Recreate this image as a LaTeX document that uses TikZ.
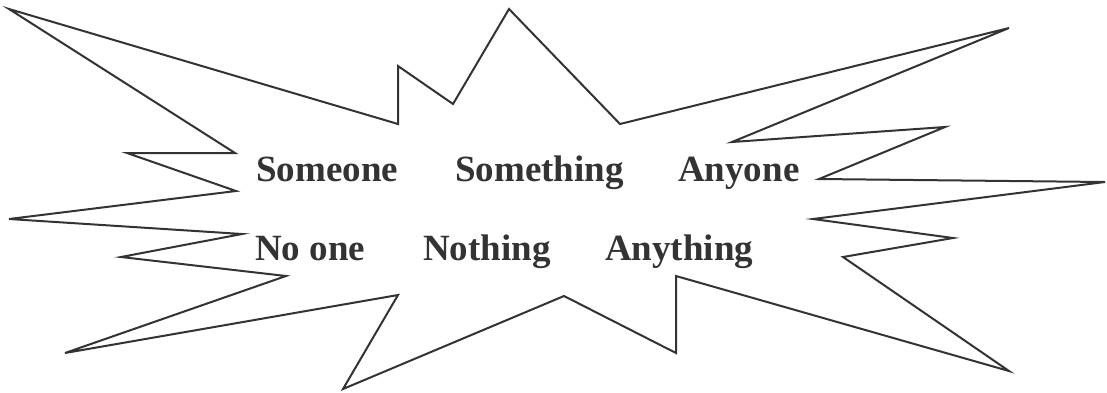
\documentclass[tikz,border=0pt]{standalone}
\usepackage{fontspec}
\setmainfont{Liberation Serif}
\definecolor{ink}{HTML}{333333}
\begin{document}
\begin{tikzpicture}[x=1pt,y=-1pt,
  burst/.style={draw=ink,line width=2pt,line join=miter,fill=white},
  word/.style={anchor=base west,inner sep=0pt,text=ink,font=\fontsize{37}{44}\selectfont\bfseries}]
\useasboundingbox (0,0) rectangle (1107,392);
\draw[burst] (9,9) -- (235,153) -- (127,153) -- (236,191) -- (9,219) -- (242,234)
  -- (121,257) -- (286,276) -- (65,353) -- (398,295) -- (343,389) -- (564,296)
  -- (676,353) -- (676,276) -- (1009,371) -- (843,257) -- (953,238) -- (813,219)
  -- (1105,182) -- (819,179) -- (945,127) -- (732,142) -- (1009,28) -- (620,124)
  -- (509,9) -- (453,104) -- (398,66) -- (398,124) -- cycle;
\node[word] (someone) at (256,181) {Someone};
\node[word] (something) at (455,181) {Something};
\node[word] (anyone) at (678,181) {Anyone};
\node[word] (noone) at (255,260) {No one};
\node[word] (nothing) at (423,260) {Nothing};
\node[word] (anything) at (605,260) {Anything};
\end{tikzpicture}
\end{document}
